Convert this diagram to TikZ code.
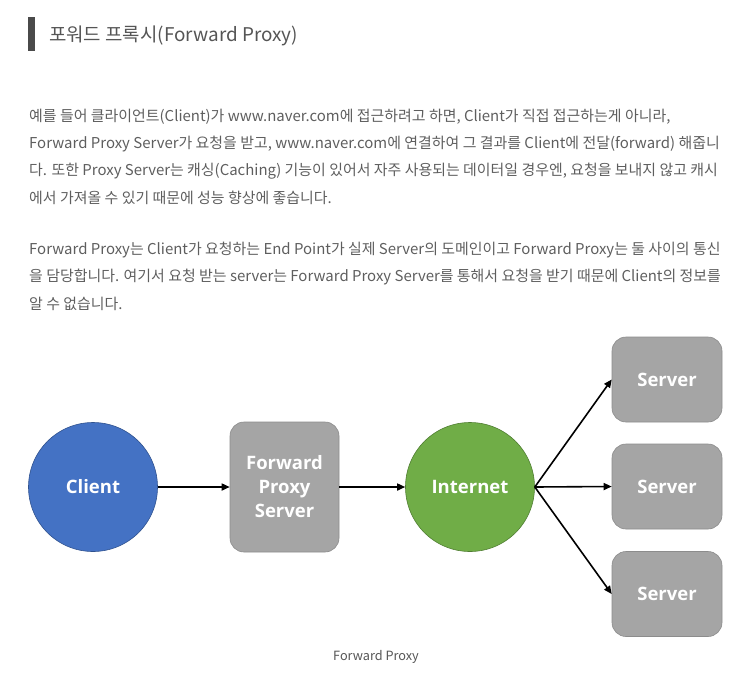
\documentclass[tikz,border=0pt]{standalone}
\usepackage{fontspec}
\setmainfont{Noto Sans CJK KR}
\newfontfamily\labelfont{Open Sans}
\usetikzlibrary{positioning,arrows.meta,calc}
\definecolor{hbar}{HTML}{4A4A4A}
\definecolor{htext}{HTML}{555555}
\definecolor{btext}{HTML}{5E5E5E}
\definecolor{cblue}{HTML}{4472C4}
\definecolor{cbluedk}{HTML}{2F528F}
\definecolor{igreen}{HTML}{70AD47}
\definecolor{igreendk}{HTML}{507E32}
\definecolor{sgray}{HTML}{A5A5A5}
\definecolor{sgraydk}{HTML}{8C8C8C}

\begin{document}
\begin{tikzpicture}[x=1pt,y=-1pt,
  line/.style={anchor=west, inner sep=0pt, text=btext, font=\fontsize{14.95}{17}\selectfont},
  circ/.style={circle, minimum size=129pt, inner sep=0pt, line width=0.6pt,
    text=white, font=\labelfont\bfseries\fontsize{18.5}{22}\selectfont},
  box/.style={rounded corners=14pt, fill=sgray, draw=sgraydk, line width=0.6pt,
    inner sep=0pt, text=white, align=center,
    font=\labelfont\bfseries\fontsize{18.5}{24}\selectfont},
  link/.style={-{Triangle[length=8pt,width=7pt]}, line width=1.6pt, black}]
 \useasboundingbox (0,0) rectangle (753,678);
 % heading
 \fill[hbar] (28,17) rectangle (35,51);
 \node[anchor=west, inner sep=0pt, text=htext, font=\fontsize{18.9}{21}\selectfont]
   (title) at (49,36) {포워드 프록시(Forward Proxy)};
 % first paragraph
 \node[line] (p1a) at (29,117) {예를 들어 클라이언트(Client)가 www.naver.com에 접근하려고 하면, Client가 직접 접근하는게 아니라,};
 \node[line] (p1b) at (29,144) {Forward Proxy Server가 요청을 받고, www.naver.com에 연결하여 그 결과를 Client에 전달(forward) 해줍니};
 \node[line] (p1c) at (29,171) {다. 또한 Proxy Server는 캐싱(Caching) 기능이 있어서 자주 사용되는 데이터일 경우엔, 요청을 보내지 않고 캐시};
 \node[line] (p1d) at (29,198) {에서 가져올 수 있기 때문에 성능 향상에 좋습니다.};
 % second paragraph
 \node[line] (p2a) at (29,250) {Forward Proxy는 Client가 요청하는 End Point가 실제 Server의 도메인이고 Forward Proxy는 둘 사이의 통신};
 \node[line] (p2b) at (29,277) {을 담당합니다. 여기서 요청 받는 server는 Forward Proxy Server를 통해서 요청을 받기 때문에 Client의 정보를};
 \node[line] (p2c) at (29,304) {알 수 없습니다.};
 % diagram
 \node[circ, fill=cblue, draw=cbluedk] (client) at (93,487) {Client};
 \node[box, minimum width=109pt, minimum height=130pt] (proxy) at (284.5,487) {Forward\\Proxy\\Server};
 \node[circ, fill=igreen, draw=igreendk] (internet) at (470,487) {Internet};
 \node[box, minimum width=110pt, minimum height=85pt] (srvA) at (667,379.5) {Server};
 \node[box, minimum width=110pt, minimum height=85pt] (srvB) at (667,486.5) {Server};
 \node[box, minimum width=110pt, minimum height=85pt] (srvC) at (667,594) {Server};
 \draw[link] (client.east) -- (proxy.west);
 \draw[link] (proxy.east) -- (internet.west);
 \draw[link] (internet.east) -- (srvA.west);
 \draw[link] (internet.east) -- (srvB.west);
 \draw[link] (internet.east) -- (srvC.west);
 \node[text=htext, font=\fontsize{12.7}{15}\selectfont] (caption) at (376,657) {Forward Proxy};
\end{tikzpicture}
\end{document}
